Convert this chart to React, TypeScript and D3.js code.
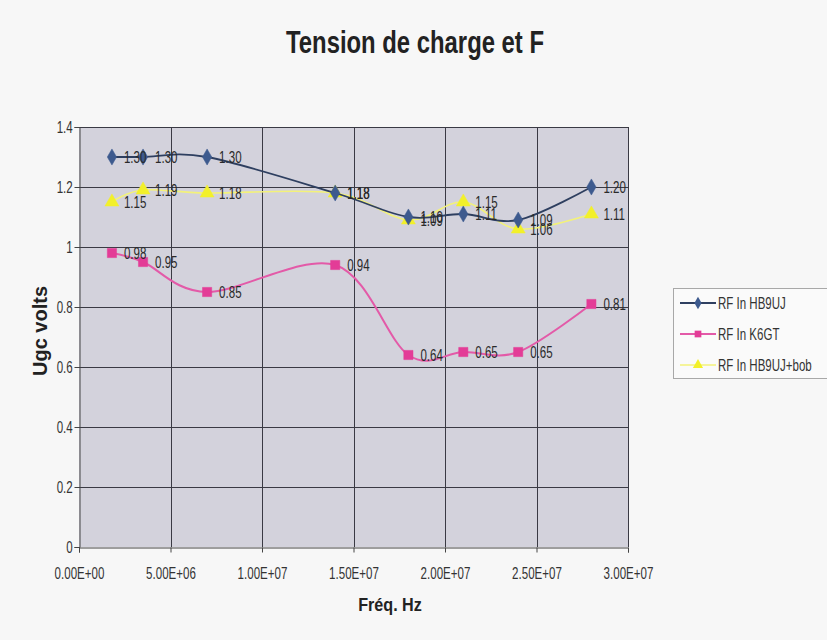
import * as d3 from "d3";
import { FC, useEffect, useRef } from "react";

const FREQS: number[] = [1.8e6, 3.5e6, 7e6, 14e6, 18e6, 21e6, 24e6, 28e6];
const HB9UJ: number[] = [1.3, 1.3, 1.3, 1.18, 1.1, 1.11, 1.09, 1.2];
const K6GT: number[] = [0.98, 0.95, 0.85, 0.94, 0.64, 0.65, 0.65, 0.81];
const HB9UJ_BOB: number[] = [1.15, 1.19, 1.18, 1.18, 1.09, 1.15, 1.06, 1.11];
const SERIES_NAMES: string[] = ["RF In HB9UJ", "RF In K6GT", "RF In HB9UJ+bob"];
const X_TICKS: number[] = [0, 5e6, 1e7, 1.5e7, 2e7, 2.5e7, 3e7];
const Y_TICKS: number[] = [0, 0.2, 0.4, 0.6, 0.8, 1, 1.2, 1.4];

const FONT = "'Liberation Sans', Arial, sans-serif";
const SQUEEZE = 0.68; // the scan uses a narrow font, fake it with a horizontal scale

const fmtExp = (v: number) => {
  const [m, e] = v.toExponential(2).split("e");
  const sign = e[0] === "-" ? "-" : "+";
  const digits = e.replace(/[+-]/, "").padStart(2, "0");
  return `${m}E${sign}${digits}`;
};

const App: FC = () => {
  const svgRef = useRef<SVGSVGElement | null>(null);

  useEffect(() => {
    if (!svgRef.current) return;
    const svg = d3.select(svgRef.current);
    svg.selectAll("*").remove();

    const left = 79,
      right = 628,
      top = 127,
      bottom = 547;

    const x = d3.scaleLinear().domain([0, 3e7]).range([left, right]);
    const y = d3.scaleLinear().domain([0, 1.4]).range([bottom, top]);

    svg.append("rect").attr("width", 827).attr("height", 640).attr("fill", "#f7f7f7");

    // title
    svg
      .append("text")
      .attr("x", 415)
      .attr("y", 53)
      .attr("text-anchor", "middle")
      .attr("font-family", FONT)
      .attr("font-weight", "bold")
      .attr("font-size", 32)
      .attr("fill", "#222")
      .attr("textLength", 258)
      .attr("lengthAdjust", "spacingAndGlyphs")
      .text("Tension de charge et F");

    // plot area
    svg
      .append("rect")
      .attr("x", left)
      .attr("y", top)
      .attr("width", right - left)
      .attr("height", bottom - top)
      .attr("fill", "#d3d2dc");

    const grid = svg.append("g").attr("stroke", "#3a3a44").attr("stroke-width", 1);
    grid
      .selectAll("line.h")
      .data(Y_TICKS.filter((d) => d > 0))
      .enter()
      .append("line")
      .attr("x1", left)
      .attr("x2", right)
      .attr("y1", (d) => Math.round(y(d)) + 0.5)
      .attr("y2", (d) => Math.round(y(d)) + 0.5);
    grid
      .selectAll("line.v")
      .data(X_TICKS.filter((d) => d > 0))
      .enter()
      .append("line")
      .attr("y1", top)
      .attr("y2", bottom)
      .attr("x1", (d) => Math.round(x(d)) + 0.5)
      .attr("x2", (d) => Math.round(x(d)) + 0.5);

    // axes
    const xAxis = svg
      .append("g")
      .attr("transform", `translate(0,${bottom + 0.5})`)
      .call(d3.axisBottom(x).tickValues(X_TICKS).tickFormat((d) => fmtExp(+d)).tickSizeOuter(0).tickSize(5).tickPadding(14));
    const yAxis = svg
      .append("g")
      .attr("transform", `translate(${left + 0.5},0)`)
      .call(d3.axisLeft(y).tickValues(Y_TICKS).tickFormat((d) => String(+d)).tickSizeOuter(0).tickSize(5).tickPadding(5));
    [xAxis, yAxis].forEach((g) => {
      g.select(".domain").attr("stroke", "#444");
      g.selectAll(".tick line").attr("stroke", "#444");
      g.selectAll(".tick text")
        .attr("font-family", FONT)
        .attr("font-size", 17)
        .attr("fill", "#333")
        .attr("transform", `scale(${SQUEEZE},1)`);
    });

    // axis titles
    svg
      .append("text")
      .attr("transform", "translate(390,611) scale(0.85,1)")
      .attr("text-anchor", "middle")
      .attr("font-family", FONT)
      .attr("font-weight", "bold")
      .attr("font-size", 19)
      .attr("fill", "#222")
      .text("Fréq. Hz");
    svg
      .append("text")
      .attr("transform", "translate(47,331) rotate(-90)")
      .attr("text-anchor", "middle")
      .attr("font-family", FONT)
      .attr("font-weight", "bold")
      .attr("font-size", 20)
      .attr("fill", "#222")
      .text("Ugc volts");

    const series = [
      { name: SERIES_NAMES[0], values: HB9UJ, line: "#2e3f60", fill: "#3d5a8e", width: 1.8, marker: d3.symbolDiamond },
      { name: SERIES_NAMES[1], values: K6GT, line: "#e35aa8", fill: "#e33c97", width: 2, marker: d3.symbolSquare },
      { name: SERIES_NAMES[2], values: HB9UJ_BOB, line: "#f3f27a", fill: "#f2f02a", width: 1.6, marker: d3.symbolTriangle },
    ];

    const line = d3
      .line<[number, number]>()
      .x((d) => x(d[0]))
      .y((d) => y(d[1]))
      .curve(d3.curveCatmullRom.alpha(0));

    // yellow underneath, then pink, then blue
    [2, 1, 0].forEach((i) => {
      const s = series[i];
      const pts: [number, number][] = FREQS.map((f, k) => [f, s.values[k]]);
      svg
        .append("path")
        .attr("d", line(pts))
        .attr("fill", "none")
        .attr("stroke", s.line)
        .attr("stroke-width", s.width);
      svg
        .append("g")
        .selectAll("path")
        .data(pts)
        .enter()
        .append("path")
        .attr("d", d3.symbol(s.marker, i === 0 ? 75 : 85)())
        .attr("transform", (d) => `translate(${x(d[0])},${y(d[1])})`)
        .attr("fill", s.fill)
        .attr("stroke", s.fill)
        .attr("stroke-width", 0.5);
    });

    // data labels
    [2, 1, 0].forEach((i) => {
      const s = series[i];
      svg
        .append("g")
        .selectAll("text")
        .data(FREQS.map((f, k) => [f, s.values[k]] as [number, number]))
        .enter()
        .append("text")
        .attr("transform", (d) => `translate(${x(d[0]) + 12},${y(d[1])}) scale(${SQUEEZE},1)`)
        .attr("dy", "0.36em")
        .attr("font-family", FONT)
        .attr("font-size", 17)
        .attr("fill", "#2a2a2a")
        .text((d) => d[1].toFixed(2));
    });

    // legend
    const lg = svg.append("g");
    lg.append("rect")
      .attr("x", 673.5)
      .attr("y", 288.5)
      .attr("width", 170)
      .attr("height", 90)
      .attr("fill", "#fafafa")
      .attr("stroke", "#a8a8a8");
    series.forEach((s, i) => {
      const cy = 303 + i * 31;
      lg.append("line")
        .attr("x1", 680)
        .attr("x2", 716)
        .attr("y1", cy)
        .attr("y2", cy)
        .attr("stroke", s.line)
        .attr("stroke-width", s.width);
      lg.append("path")
        .attr("d", d3.symbol(s.marker, 45)())
        .attr("transform", `translate(698,${cy})`)
        .attr("fill", s.fill);
      lg.append("text")
        .attr("transform", `translate(718,${cy}) scale(0.72,1)`)
        .attr("dy", "0.36em")
        .attr("font-family", FONT)
        .attr("font-size", 16)
        .attr("fill", "#333")
        .text(s.name);
    });
  }, []);

  return (
    <div style={{ position: "absolute", left: 0, top: 0 }}>
      <svg ref={svgRef} width={827} height={640} style={{ display: "block" }} />
    </div>
  );
};

export default App;
